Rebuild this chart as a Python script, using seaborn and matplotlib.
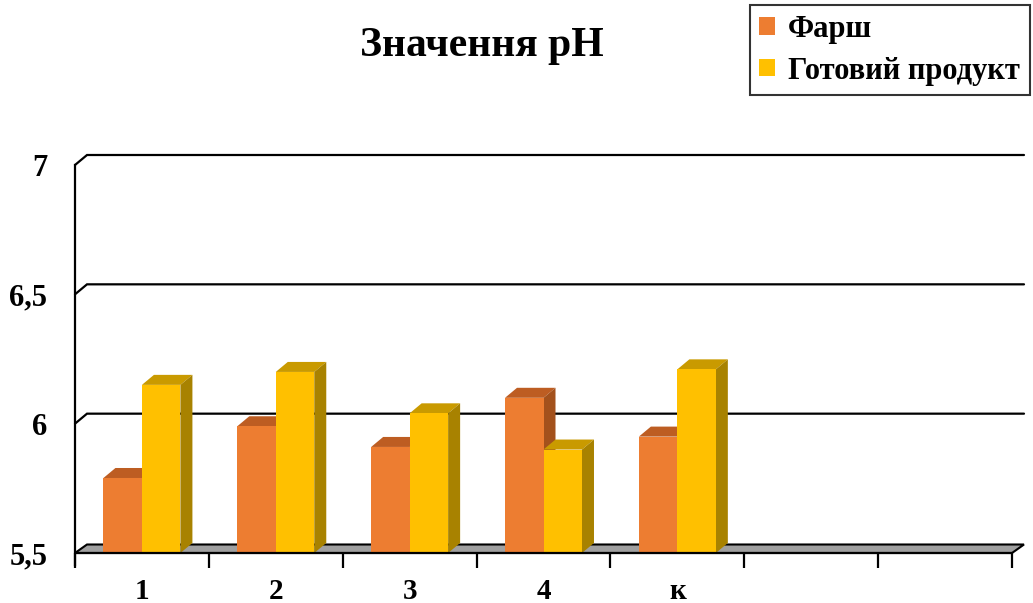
import matplotlib
matplotlib.use("Agg")
import matplotlib.pyplot as plt
import seaborn as sns
import pandas as pd
from matplotlib.patches import Polygon, Patch
from matplotlib.ticker import FuncFormatter, FixedLocator

# Data
categories = ["1", "2", "3", "4", "к"]
series_names = ["Фарш", "Готовий продукт"]
farsh = [5.79, 5.99, 5.91, 6.10, 5.95]
gotovyi = [6.15, 6.20, 6.04, 5.90, 6.21]
y_ticks = [5.5, 6.0, 6.5, 7.0]
n_slots = 7  # category slots on the axis (last two are empty)

front_colors = {"Фарш": "#ED7D31", "Готовий продукт": "#FFC000"}
top_colors = {"Фарш": "#BD5D22", "Готовий продукт": "#C99A00"}
side_colors = {"Фарш": "#A3511C", "Готовий продукт": "#A88200"}

df = pd.DataFrame({
    "cat": categories * 2,
    "series": [series_names[0]] * len(categories) + [series_names[1]] * len(categories),
    "value": farsh + gotovyi,
})

sns.set_style("white")
serif = ["Liberation Serif", "DejaVu Serif"]
plt.rcParams["font.family"] = serif
plt.rcParams["font.weight"] = "bold"
plt.rcParams["text.color"] = "black"
plt.rcParams["xtick.color"] = "black"
plt.rcParams["ytick.color"] = "black"
plt.rcParams["axes.labelcolor"] = "black"

W, H = 1033, 603
fig = plt.figure(figsize=(W / 100, H / 100), dpi=100)
ax = fig.add_axes([75 / W, 1 - 553 / H, (1012 - 75) / W, (553 - 165) / H])

ymin, ymax = 5.5, 7.0

# depth offset of the 3D effect, in data units
dx = 12 / ((1012 - 75) / n_slots)
dy = 10 / ((553 - 165) / (ymax - ymin))

sns.barplot(data=df, x="cat", y="value", hue="series", order=categories,
            hue_order=series_names, palette=front_colors, width=0.575,
            ax=ax, legend=False, saturation=1, linewidth=0)

ax.set_ylim(ymin, ymax)
ax.set_xlim(-0.5, n_slots - 0.5)

bars = list(ax.patches)

# floor of the chart
floor = Polygon([(-0.5, ymin), (n_slots - 0.5, ymin),
                 (n_slots - 0.5 + dx, ymin + dy * 0.85), (-0.5 + dx, ymin + dy * 0.85)],
                closed=True, facecolor="#A0A0A0", edgecolor="black", lw=1.5,
                clip_on=False, zorder=1)
ax.add_patch(floor)

# back-wall gridlines
for v in y_ticks[1:]:
    ax.plot([-0.5, -0.5 + dx, n_slots - 0.5 + dx], [v, v + dy, v + dy],
            color="black", lw=1.6, clip_on=False, zorder=0.8, solid_joinstyle="miter")

# top and side faces for each bar
for i, p in enumerate(bars):
    s = series_names[0] if i < len(categories) else series_names[1]
    z = 2 if s == series_names[0] else 3
    x0 = p.get_x()
    w = p.get_width()
    top = p.get_y() + p.get_height()
    p.set_zorder(z + 0.1)
    p.set_clip_on(False)
    p.set_y(ymin)
    p.set_height(top - ymin)
    top_face = Polygon([(x0, top), (x0 + w, top), (x0 + w + dx, top + dy), (x0 + dx, top + dy)],
                       closed=True, facecolor=top_colors[s], edgecolor="none",
                       clip_on=False, zorder=z)
    side_face = Polygon([(x0 + w, ymin), (x0 + w + dx, ymin + dy), (x0 + w + dx, top + dy), (x0 + w, top)],
                        closed=True, facecolor=side_colors[s], edgecolor="none",
                        clip_on=False, zorder=z)
    ax.add_patch(top_face)
    ax.add_patch(side_face)

# axes styling
for side in ["top", "right", "bottom"]:
    ax.spines[side].set_visible(False)
ax.spines["left"].set_color("black")
ax.spines["left"].set_linewidth(1.6)
ax.spines["left"].set_bounds(ymin - 12 / 259, ymax)
ax.plot([-0.5, n_slots - 0.5], [ymin, ymin], color="black", lw=1.6, clip_on=False, zorder=4)

ax.set_yticks(y_ticks)
ax.yaxis.set_major_formatter(FuncFormatter(lambda v, _: f"{v:g}".replace(".", ",")))
ax.tick_params(axis="y", length=8, width=1.6, color="black", labelsize=22, pad=12,
               labelcolor="black")
for lab in ax.get_yticklabels():
    lab.set_fontweight("bold")

ax.set_xticks(range(len(categories)))
ax.set_xticklabels(categories, fontsize=21, fontweight="bold", color="black")
ax.tick_params(axis="x", which="major", length=0, pad=18)
ax.xaxis.set_minor_locator(FixedLocator([k - 0.5 for k in range(n_slots + 1)]))
ax.tick_params(axis="x", which="minor", length=11, width=1.6, color="black", bottom=True)
ax.set_xlabel("")
ax.set_ylabel("")
ax.grid(False)

fig.text(482 / W, 1 - 56 / H, "Значення pH", ha="center", va="baseline",
         fontsize=30, fontweight="bold", family=serif, color="black")

handles = [Patch(facecolor=front_colors[s], edgecolor="none") for s in series_names]
leg = fig.legend(handles, series_names, loc="upper right",
                 bbox_to_anchor=(1030 / W, 1 - 5 / H), frameon=True, fancybox=False,
                 prop={"family": serif, "weight": "bold", "size": 22},
                 handlelength=0.5, handleheight=0.5, handletextpad=0.45,
                 borderpad=0.32, labelspacing=0.42, borderaxespad=0)
leg.get_frame().set_edgecolor("black")
leg.get_frame().set_linewidth(1.5)
for t in leg.get_texts():
    t.set_color("black")

fig.savefig("out.png", dpi=100)
